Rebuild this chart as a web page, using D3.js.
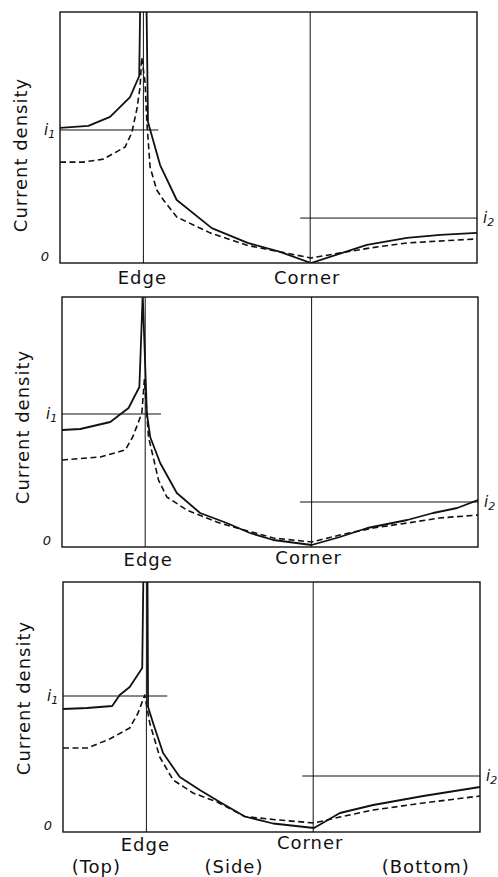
<!DOCTYPE html>
<html>
<head>
<meta charset="utf-8">
<script src="https://cdn.jsdelivr.net/npm/d3@7"></script>
<style>
  html, body { margin: 0; padding: 0; background: #fff; }
  svg { display: block; }
  text { font-family: "DejaVu Sans", sans-serif; fill: #111; }
</style>
</head>
<body>
<svg id="chart" width="498" height="877"></svg>
<script>
// ---- data (x: position along the contour, Top 0-1, Side 1-3, Bottom 3-5; y: relative current density) ----
const regionLabels = ["(Top)", "(Side)", "(Bottom)"];
const regionCenters = [0.4, 2.05, 4.35];
const markerNames = ["Edge", "Corner"];
const markerPositions = [1, 3];
const yLabel = "Current density";
const zeroLabel = "0";

const p1Solid = [[0,5.38],[0.34,5.46],[0.60,5.82],[0.84,6.61],[0.95,7.45],[1.0,20],[1.055,5.62],[1.20,3.90],[1.40,2.51],[1.82,1.39],[2.25,0.80],[2.64,0.44],[3.01,0.0],[3.68,0.72],[4.16,1.0],[4.56,1.12],[5.0,1.2]];
const p1Dashed = [[0,4.02],[0.28,4.02],[0.52,4.14],[0.78,4.62],[0.86,5.18],[0.92,6.10],[0.96,7.0],[0.98,8.2],[1.02,7.2],[1.04,5.7],[1.08,3.82],[1.16,2.91],[1.24,2.51],[1.40,1.83],[1.80,1.20],[2.25,0.70],[2.64,0.44],[3.01,0.2],[3.72,0.6],[4.16,0.8],[5.0,0.96]];
const p2Solid = [[0,4.68],[0.22,4.72],[0.58,5.0],[0.80,5.56],[0.93,6.4],[0.97,10.1],[1.02,5.36],[1.06,4.4],[1.18,3.36],[1.38,2.16],[1.66,1.36],[1.98,0.96],[2.26,0.56],[2.54,0.28],[3.0,0.08],[3.34,0.4],[3.67,0.76],[4.15,1.08],[4.46,1.36],[4.75,1.56],[5.0,1.88]];
const p2Dashed = [[0,3.48],[0.46,3.6],[0.76,3.88],[0.85,4.4],[0.96,5.36],[0.99,6.7],[1.04,4.4],[1.16,2.68],[1.26,2.0],[1.5,1.48],[1.86,1.0],[2.06,0.8],[2.26,0.62],[2.54,0.36],[3.0,0.2],[3.34,0.48],[3.74,0.76],[4.15,0.96],[4.54,1.16],[5.0,1.28]];
const p3Solid = [[0,4.92],[0.29,4.96],[0.59,5.04],[0.68,5.48],[0.80,5.8],[0.95,6.56],[1.0,20],[1.02,5.0],[1.08,4.36],[1.2,3.16],[1.4,2.2],[1.64,1.68],[1.88,1.2],[2.18,0.62],[2.52,0.34],[3.01,0.16],[3.32,0.76],[3.72,1.08],[4.32,1.44],[5.0,1.8]];
const p3Dashed = [[0,3.36],[0.29,3.36],[0.56,3.72],[0.80,4.16],[0.90,4.76],[0.98,5.48],[1.04,4.36],[1.16,3.0],[1.32,2.08],[1.56,1.56],[1.85,1.2],[2.18,0.62],[2.52,0.5],[3.01,0.36],[3.32,0.6],[3.72,0.88],[4.32,1.16],[5.0,1.44]];

// reference levels i1 (top) and i2 (bottom): [value, xStart, xEnd]
const i1Levels = [[5.30,0,1.18],[5.32,0,1.19],[5.44,0,1.25]];
const i2Levels = [[1.79,2.88,5],[1.80,2.86,5],[2.24,2.87,5]];

const solidSeries = [p1Solid, p2Solid, p3Solid];
const dashedSeries = [p1Dashed, p2Dashed, p3Dashed];

// ---- layout ----
const panels = [
  {left: 60, right: 477, top: 12,  bottom: 263, markerBase: [284, 284], ylabY: 155},
  {left: 62, right: 478, top: 297, bottom: 547, markerBase: [566, 564], ylabY: 427},
  {left: 63, right: 480, top: 582, bottom: 832, markerBase: [851, 849], ylabY: 698}
];

const svg = d3.select("#chart");

panels.forEach((p, k) => {
  const x = d3.scaleLinear().domain([0, 5]).range([p.left, p.right]);
  const y = d3.scaleLinear().domain([0, 10]).range([p.bottom, p.top]);
  const g = svg.append("g");

  const clipId = "clip" + k;
  svg.append("clipPath").attr("id", clipId)
    .append("rect").attr("x", p.left).attr("y", p.top)
    .attr("width", p.right - p.left).attr("height", p.bottom - p.top);

  // frame
  g.append("rect")
    .attr("x", x(0)).attr("y", y(10))
    .attr("width", x(5) - x(0)).attr("height", y(0) - y(10))
    .attr("fill", "none").attr("stroke", "#111").attr("stroke-width", 1.4);

  // Edge / Corner vertical lines
  markerPositions.forEach((m, j) => {
    g.append("line")
      .attr("x1", x(m)).attr("x2", x(m))
      .attr("y1", y(10)).attr("y2", y(0))
      .attr("stroke", "#111").attr("stroke-width", 1);
    g.append("text")
      .attr("x", x(m) + (j === 0 ? (k === 1 ? 3 : -1) : -3))
      .attr("y", p.markerBase[j])
      .attr("text-anchor", "middle")
      .attr("font-size", 18).attr("letter-spacing", 1)
      .text(markerNames[j]);
  });

  // i1 / i2 lines
  const l1 = i1Levels[k], l2 = i2Levels[k];
  g.append("line").attr("x1", x(l1[1])).attr("x2", x(l1[2]))
    .attr("y1", y(l1[0])).attr("y2", y(l1[0]))
    .attr("stroke", "#111").attr("stroke-width", 1);
  g.append("line").attr("x1", x(l2[1])).attr("x2", x(l2[2]))
    .attr("y1", y(l2[0])).attr("y2", y(l2[0]))
    .attr("stroke", "#111").attr("stroke-width", 1);

  const t1 = g.append("text").attr("x", x(0) - 16).attr("y", y(l1[0]) + 5)
    .attr("font-size", 15).attr("font-style", "italic");
  t1.append("tspan").text("i");
  t1.append("tspan").attr("font-size", 11).attr("dy", 3).text("1");
  const t2 = g.append("text").attr("x", x(5) + 6).attr("y", y(l2[0]) + 5)
    .attr("font-size", 15).attr("font-style", "italic");
  t2.append("tspan").text("i");
  t2.append("tspan").attr("font-size", 11).attr("dy", 3).text("2");

  // zero label
  g.append("text").attr("x", x(0) - 15).attr("y", y(0) - 2)
    .attr("text-anchor", "middle").attr("font-size", 13).attr("font-style", "italic")
    .text(zeroLabel);

  // y label
  g.append("text")
    .attr("transform", `translate(${p.left - 33},${p.ylabY}) rotate(-90)`)
    .attr("text-anchor", "middle").attr("font-size", 18).attr("letter-spacing", 1)
    .text(yLabel);

  // curves
  const line = d3.line().x(d => x(d[0])).y(d => y(d[1]));
  const cg = g.append("g").attr("clip-path", `url(#${clipId})`);
  cg.append("path").datum(dashedSeries[k]).attr("d", line)
    .attr("fill", "none").attr("stroke", "#111").attr("stroke-width", 1.6)
    .attr("stroke-dasharray", "6,3.5").attr("stroke-linejoin", "round");
  cg.append("path").datum(solidSeries[k]).attr("d", line)
    .attr("fill", "none").attr("stroke", "#111").attr("stroke-width", 1.8)
    .attr("stroke-linejoin", "round");

  // region labels under the last panel
  if (k === 2) {
    regionLabels.forEach((r, j) => {
      g.append("text").attr("x", x(regionCenters[j])).attr("y", 873)
        .attr("text-anchor", "middle").attr("font-size", 18).attr("letter-spacing", 1)
        .text(r);
    });
  }
});
</script>
</body>
</html>
